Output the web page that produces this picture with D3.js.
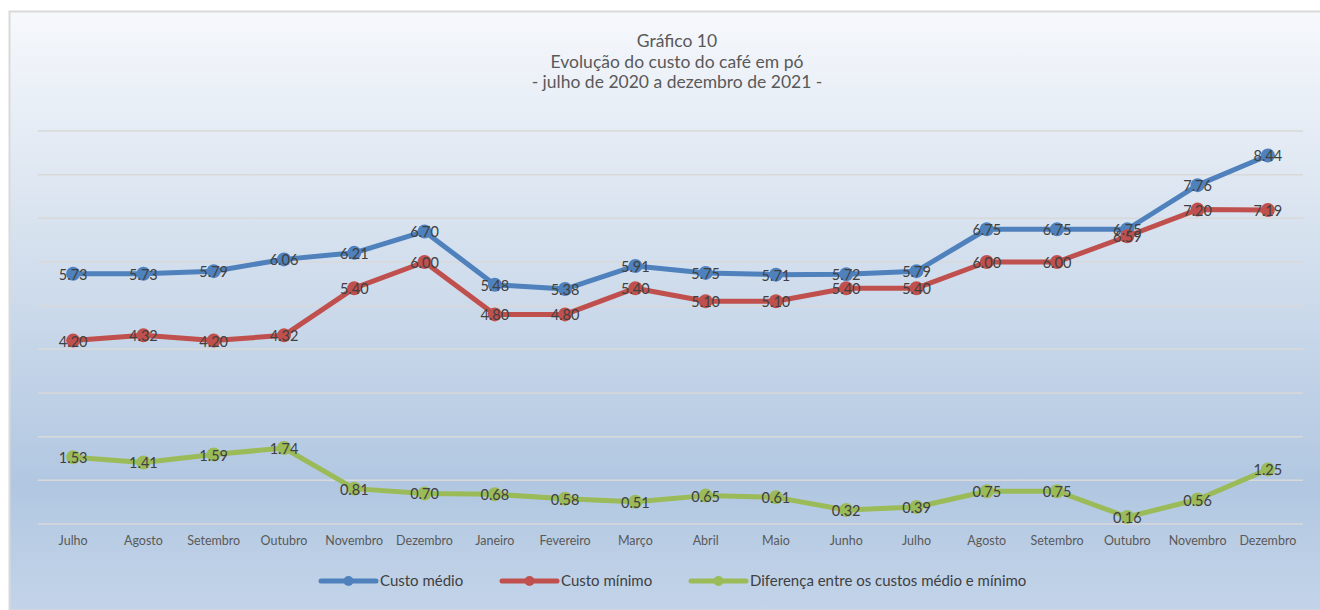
<!DOCTYPE html>
<html>
<head>
<meta charset="utf-8">
<script src="https://cdn.jsdelivr.net/npm/d3@7"></script>
<style>
  body { margin: 0; background: #fff; }
  svg { display: block; font-family: Lato, "Open Sans", sans-serif; }
</style>
</head>
<body>
<svg id="chart" width="1320" height="610"></svg>
<script>
// Dados
const months = ['Julho','Agosto','Setembro','Outubro','Novembro','Dezembro','Janeiro','Fevereiro','Março','Abril','Maio','Junho','Julho','Agosto','Setembro','Outubro','Novembro','Dezembro']
const custoMedio = [5.73,5.73,5.79,6.06,6.21,6.70,5.48,5.38,5.91,5.75,5.71,5.72,5.79,6.75,6.75,6.75,7.76,8.44]
const custoMinimo = [4.20,4.32,4.20,4.32,5.40,6.00,4.80,4.80,5.40,5.10,5.10,5.40,5.40,6.00,6.00,6.59,7.20,7.19]
const diferenca = [1.53,1.41,1.59,1.74,0.81,0.70,0.68,0.58,0.51,0.65,0.61,0.32,0.39,0.75,0.75,0.16,0.56,1.25]
const seriesNames = ['Custo médio','Custo mínimo','Diferença entre os custos médio e mínimo']
const seriesColors = ['#4F81BD','#C0504D','#9BBB59']
const titleLines = ['Gráfico 10','Evolução do custo do café em pó','- julho de 2020 a dezembro de 2021 -']

const svg = d3.select('#chart')
const W = 1320, H = 610

// fundo em degradê
const defs = svg.append('defs')
const grad = defs.append('linearGradient').attr('id','bg').attr('x1',0).attr('y1',0).attr('x2',0).attr('y2',1)
grad.append('stop').attr('offset','0%').attr('stop-color','#F6F8FC')
grad.append('stop').attr('offset','33%').attr('stop-color','#DAE4F0')
grad.append('stop').attr('offset','79%').attr('stop-color','#B1C7E1')
grad.append('stop').attr('offset','100%').attr('stop-color','#C3D4E9')

svg.append('rect')
    .attr('x',9.5).attr('y',11.5).attr('width',W).attr('height',H - 11)
    .attr('fill','url(#bg)')
    .attr('stroke','#D9D9D9').attr('stroke-width',2)

// título
svg.append('g').selectAll('text')
    .data(titleLines)
    .join('text')
    .attr('x',677).attr('y',(d,i) => 47 + i*20.5)
    .attr('text-anchor','middle')
    .attr('font-size',17.5)
    .attr('fill','#595959')
    .text(d => d)

// escalas
const x = d3.scaleBand().domain(d3.range(months.length)).range([38,1303])
const y = d3.scaleLinear().domain([0,9]).range([524,131])

// linhas de grade
svg.append('g').selectAll('line')
    .data(y.ticks(9))
    .join('line')
    .attr('x1',38).attr('x2',1303)
    .attr('y1',d => y(d)).attr('y2',d => y(d))
    .attr('stroke','#D9D9D9').attr('stroke-width',1.5)

// eixo x
const xAxis = svg.append('g')
    .attr('transform','translate(0,524)')
    .call(d3.axisBottom(x).tickSize(0).tickPadding(12).tickFormat(i => months[i]))
xAxis.select('.domain').remove()
xAxis.selectAll('text')
    .attr('font-family','Lato, "Open Sans", sans-serif')
    .attr('font-size',12.5)
    .attr('fill','#595959')

const cx = i => x(i) + x.bandwidth()/2
const line = d3.line().x((d,i) => cx(i)).y(d => y(d))

const allSeries = [custoMedio, custoMinimo, diferenca]

allSeries.forEach((vals, s) => {
    const g = svg.append('g')
    g.append('path')
        .datum(vals)
        .attr('d',line)
        .attr('fill','none')
        .attr('stroke',seriesColors[s])
        .attr('stroke-width',5)
        .attr('stroke-linejoin','round')
    g.selectAll('circle')
        .data(vals)
        .join('circle')
        .attr('cx',(d,i) => cx(i)).attr('cy',d => y(d))
        .attr('r',7)
        .attr('fill',seriesColors[s])
})

// rótulos
allSeries.forEach((vals, s) => {
    svg.append('g').selectAll('text')
        .data(vals)
        .join('text')
        .attr('x',(d,i) => cx(i)).attr('y',d => y(d) + 6)
        .attr('text-anchor','middle')
        .attr('font-size',14.5)
        .attr('fill','#404040')
        .text(d => d.toFixed(2))
})

// legenda
const legendX = [321, 502, 691]
const lg = svg.append('g').selectAll('g')
    .data(seriesNames)
    .join('g')
    .attr('transform',(d,i) => `translate(${legendX[i]},581)`)
lg.append('line')
    .attr('x1',0).attr('x2',55)
    .attr('stroke',(d,i) => seriesColors[i]).attr('stroke-width',5)
    .attr('stroke-linecap','round')
lg.append('circle')
    .attr('cx',27.5).attr('r',5)
    .attr('fill',(d,i) => seriesColors[i])
lg.append('text')
    .attr('x',59).attr('y',5)
    .attr('font-size',15)
    .attr('fill','#404040')
    .text(d => d)
</script>
</body>
</html>
